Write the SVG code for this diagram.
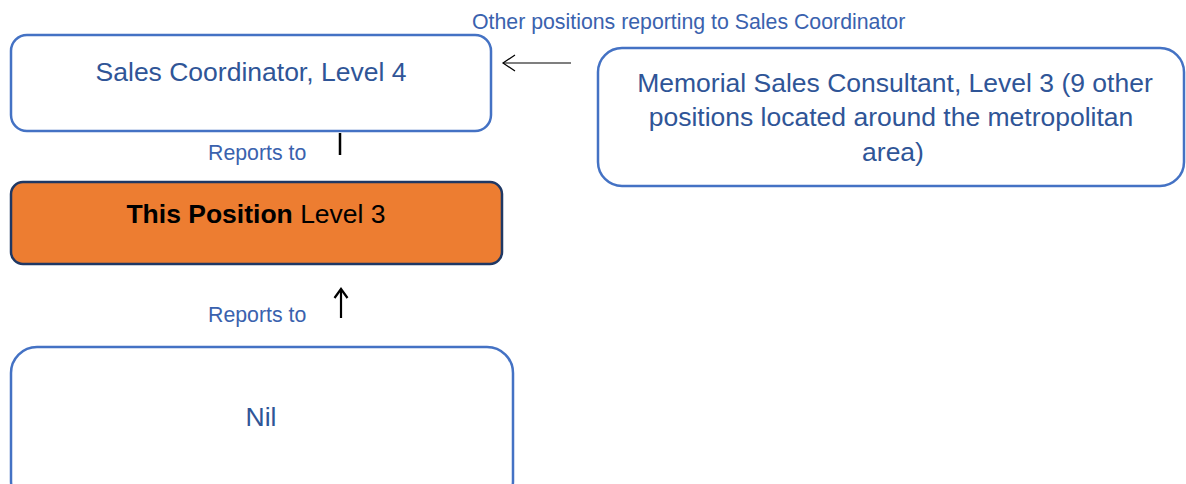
<svg xmlns="http://www.w3.org/2000/svg" width="1186" height="484" viewBox="0 0 1186 484">
  <style>
    .box { fill: #ffffff; stroke: #4472C4; stroke-width: 2.5; }
    .focus { fill: #ED7D31; stroke: #1F3864; stroke-width: 2.5; }
    .t { font-family: "Liberation Sans", Arial, sans-serif; font-size: 26.5px; fill: #2F5597; text-anchor: middle; }
    .dark { fill: #000000; }
    .lbl { font-family: "Liberation Sans", Arial, sans-serif; font-size: 21.3px; fill: #3A62AE; }
    .conn { stroke: #000000; fill: none; }
  </style>

  <!-- free-standing label above the peer box -->
  <text class="lbl" x="472" y="29">Other positions reporting to Sales Coordinator</text>

  <g id="sales-coordinator">
    <rect class="box" x="11" y="35" width="480" height="96" rx="16"/>
    <text class="t" x="251" y="81">Sales Coordinator, Level 4</text>
  </g>

  <g id="memorial-sales-consultant">
    <rect class="box" x="598" y="48" width="586" height="138" rx="24"/>
    <text class="t" x="895" y="92">Memorial Sales Consultant, Level 3 (9 other</text>
    <text class="t" x="891" y="126">positions located around the metropolitan</text>
    <text class="t" x="893" y="161">area)</text>
  </g>

  <g id="this-position">
    <rect class="focus" x="11" y="182" width="491" height="82" rx="12"/>
    <text class="t dark" x="256" y="223"><tspan font-weight="bold">This Position</tspan> Level 3</text>
  </g>

  <g id="nil">
    <rect class="box" x="11" y="347" width="502" height="160" rx="26"/>
    <text class="t" x="261" y="426">Nil</text>
  </g>

  <g id="connectors">
    <!-- peer box to coordinator -->
    <line class="conn" x1="571" y1="63" x2="503" y2="63" stroke-width="1.2"/>
    <polyline class="conn" points="515,55 503,63 515,71" stroke-width="1.2"/>
    <!-- coordinator to this position -->
    <line class="conn" x1="340" y1="133" x2="340" y2="155" stroke-width="2.5"/>
    <text class="lbl" x="208" y="160">Reports to</text>
    <!-- nil to this position -->
    <line class="conn" x1="341" y1="318" x2="341" y2="290" stroke-width="2.2"/>
    <polyline class="conn" points="334.5,298 341,289 347.5,298" stroke-width="2.2"/>
    <text class="lbl" x="208" y="322">Reports to</text>
  </g>
</svg>
